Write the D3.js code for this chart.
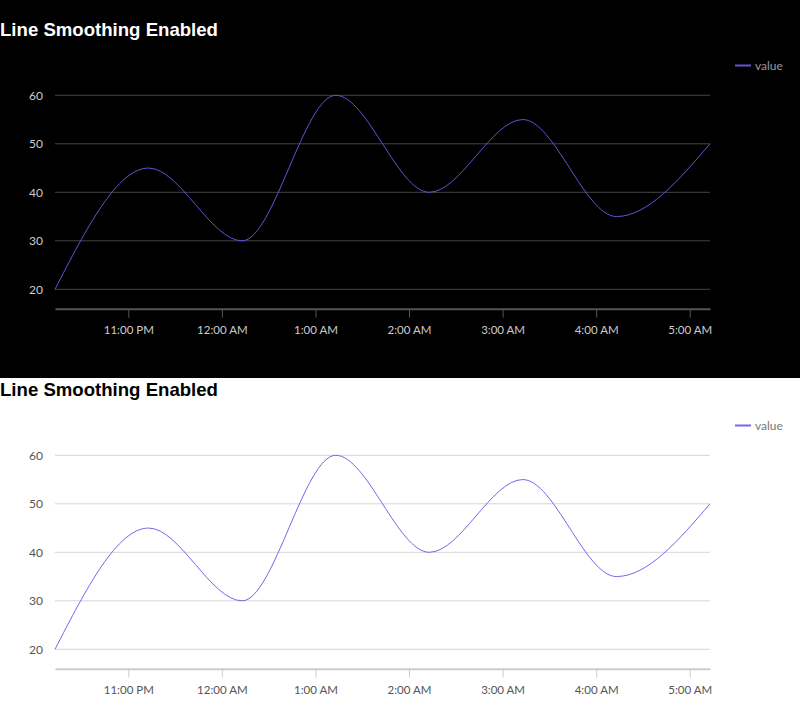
<!DOCTYPE html>
<html lang="en">
<head>
  <meta charset="UTF-8">
  <title>Line Smoothing Enabled</title>
  <script src="https://d3js.org/d3.v7.min.js"></script>
  <style>
    html, body { margin: 0; padding: 0; background: #fff; }
    svg { display: block; }
  </style>
</head>
<body>
<div id="chart"></div>
<script>
// Data
const times = ["22:13", "23:13", "00:13", "01:13", "02:13", "03:13", "04:13", "05:13"];
const dayOffsets = [0, 0, 1, 1, 1, 1, 1, 1];
const values = [20, 45, 30, 60, 40, 55, 35, 50];
const yTicks = [20, 30, 40, 50, 60];
const seriesName = "value";
const title = "Line Smoothing Enabled";

const parse = d3.timeParse("%Y-%m-%d %H:%M");
const data = times.map((t, i) => ({
  date: parse("2020-01-" + String(1 + dayOffsets[i]).padStart(2, "0") + " " + t),
  value: values[i]
}));

const themes = [
  { bg: "#000", top: 0, title: "#fff", grid: "#444", axis: "#555", label: "#ccc", legend: "#999", line: "#6b4fd8" },
  { bg: "#fff", top: 360, title: "#000", grid: "#d6d6d6", axis: "#ccc", label: "#555", legend: "#777", line: "#8060ea" }
];

const svg = d3.select("#chart").append("svg")
  .attr("width", 800)
  .attr("height", 719);

// backgrounds first, the dark one runs a little under the second title
svg.append("rect").attr("width", 800).attr("height", 378).attr("fill", themes[0].bg);
svg.append("rect").attr("y", 378).attr("width", 800).attr("height", 341).attr("fill", themes[1].bg);

themes.forEach(t => drawPanel(svg.append("g").attr("transform", `translate(0,${t.top})`), t));

function drawPanel(g, t) {
  const x = d3.scaleTime()
    .domain(d3.extent(data, d => d.date))
    .range([55, 710]);

  const y = d3.scaleLinear()
    .domain([16, 64])
    .range([308.7, 75.9]);

  g.append("text")
    .attr("x", 0).attr("y", 36)
    .attr("fill", t.title)
    .style("font", "bold 18.6px 'Liberation Sans', Arial, sans-serif")
    .text(title);

  // y labels
  const yAxis = g.append("g")
    .attr("transform", "translate(55,0)")
    .call(d3.axisLeft(y).tickValues(yTicks).tickSize(0).tickPadding(12));
  yAxis.select(".domain").remove();
  yAxis.selectAll("text")
    .attr("fill", t.label)
    .style("font", "12px Lato, 'Open Sans', sans-serif");

  // grid lines
  g.append("g").selectAll("line")
    .data(yTicks)
    .join("line")
    .attr("x1", 55).attr("x2", 710)
    .attr("y1", d => y(d)).attr("y2", d => y(d))
    .attr("stroke", t.grid)
    .attr("stroke-width", 1);

  // x axis
  const xAxis = g.append("g")
    .attr("transform", `translate(0,${y(16)})`)
    .call(d3.axisBottom(x)
      .ticks(d3.timeHour.every(1))
      .tickFormat(d3.timeFormat("%-I:%M %p"))
      .tickSize(9)
      .tickSizeOuter(0)
      .tickPadding(8));
  xAxis.select(".domain")
    .attr("stroke", t.axis)
    .attr("stroke-width", 2);
  xAxis.selectAll(".tick line")
    .attr("stroke", t.axis);
  xAxis.selectAll("text")
    .attr("fill", t.label)
    .style("font", "11.5px Lato, 'Open Sans', sans-serif");

  // series
  const line = d3.line()
    .x(d => x(d.date))
    .y(d => y(d.value))
    .curve(d3.curveMonotoneX);

  g.append("path")
    .datum(data)
    .attr("d", line)
    .attr("fill", "none")
    .attr("stroke", t.line)
    .attr("stroke-width", 1);

  // legend
  const legend = g.append("g").attr("transform", "translate(735,65.5)");
  legend.append("line")
    .attr("x1", 0).attr("x2", 16)
    .attr("stroke", t.line)
    .attr("stroke-width", 2);
  legend.append("text")
    .attr("x", 20).attr("dy", "0.35em")
    .attr("fill", t.legend)
    .style("font", "12px Lato, 'Open Sans', sans-serif")
    .text(seriesName);
}
</script>
</body>
</html>
